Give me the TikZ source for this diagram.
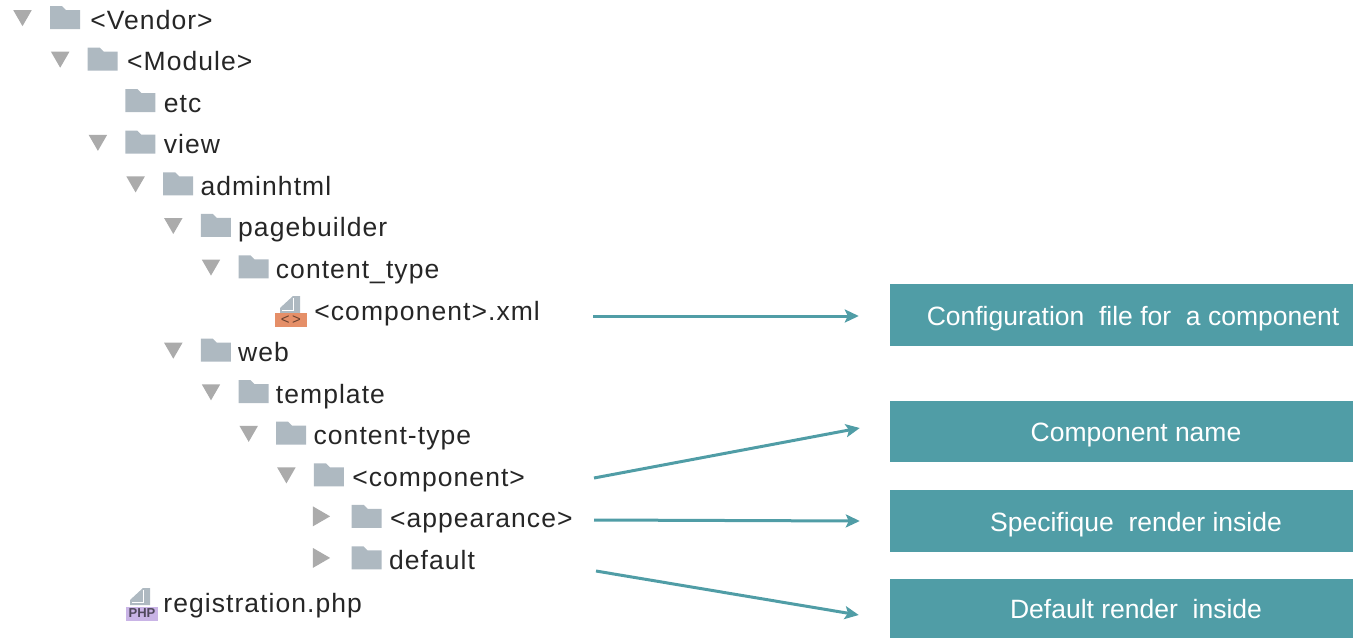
\documentclass[tikz,border=0pt]{standalone}
\usepackage{fontspec}
\setmainfont{Liberation Sans}
\newfontfamily\treefont[LetterSpace=4]{Liberation Sans}
\usetikzlibrary{shapes.geometric, arrows.meta, positioning}
\definecolor{foldergray}{HTML}{AEB9C1}
\definecolor{tealbox}{HTML}{509DA6}
\definecolor{xmlband}{HTML}{E58F68}
\definecolor{phpband}{HTML}{C9B4E6}
\tikzstyle{folder} = [rectangle, minimum width=30pt, minimum height=23pt, inner sep=0pt, path picture={\fill [foldergray] (path picture bounding box.south west) -- (path picture bounding box.north west) -- ([xshift=12pt]path picture bounding box.north west) -- ([xshift=16pt,yshift=-4pt]path picture bounding box.north west) -- ([yshift=-4pt]path picture bounding box.north east) -- (path picture bounding box.south east) -- cycle;}]
\tikzstyle{entry} = [rectangle, inner sep=0pt, text height=22pt, text depth=6pt, text=black!85, font=\fontsize{26.5}{30}\treefont]
\tikzstyle{open} = [isosceles triangle, isosceles triangle apex angle=60, shape border rotate=-90, minimum width=18pt, minimum height=16pt, inner sep=0pt, fill=black!33, yshift=2pt]
\tikzstyle{closed} = [isosceles triangle, isosceles triangle apex angle=60, minimum width=20pt, minimum height=16pt, inner sep=0pt, fill=black!33]
\tikzstyle{sheet} = [rectangle, minimum width=20pt, minimum height=17pt, inner sep=0pt, path picture={\fill [foldergray] (path picture bounding box.south west) -- ([yshift=5pt]path picture bounding box.south west) -- ([xshift=13pt]path picture bounding box.north west) -- (path picture bounding box.north east) -- (path picture bounding box.south east) -- cycle; \draw [white, line width=1pt] ([xshift=2pt,yshift=3pt]path picture bounding box.south west) -- ([xshift=13pt,yshift=3pt]path picture bounding box.south west) -- ([xshift=13pt,yshift=-2pt]path picture bounding box.north west);}]
\tikzstyle{band} = [rectangle, minimum width=32pt, minimum height=14pt, inner sep=0pt]
\tikzstyle{note} = [rectangle, minimum width=463pt, fill=tealbox, text=white, text centered, inner sep=0pt, text height=22pt, text depth=2pt, font=\fontsize{26.5}{30}\selectfont, execute at begin node={\hspace*{29pt}}]
\tikzstyle{arrow} = [line width=3pt,-{Stealth[length=14pt,width=13pt,inset=3pt]},color=tealbox]

\begin{document}
\begin{tikzpicture}[x=1pt, y=-1pt, node distance=41.57pt]
			\useasboundingbox (0,0) rectangle (1353,638);
			\node (vendor) [folder] at (65,17.5) {};
			\node (module) [folder, below of=vendor, xshift=37.7pt] {};
			\node (etc) [folder, below of=module, xshift=37.7pt] {};
			\node (view) [folder, below of=etc] {};
			\node (adminhtml) [folder, below of=view, xshift=37.7pt] {};
			\node (pagebuilder) [folder, below of=adminhtml, xshift=37.7pt] {};
			\node (contentunder) [folder, below of=pagebuilder, xshift=37.7pt] {};
			\node (web) [folder, below of=pagebuilder, yshift=-83.14pt] {};
			\node (template) [folder, below of=web, xshift=37.7pt] {};
			\node (contentdash) [folder, below of=template, xshift=37.7pt] {};
			\node (component) [folder, below of=contentdash, xshift=37.7pt] {};
			\node (appearance) [folder, below of=component, xshift=37.7pt] {};
			\node (default) [folder, below of=appearance] {};
			% file icons
			\node (xmlsheet) [sheet] at (290,304.5) {};
			\node (xmlicon) [band, fill=xmlband, text=black!55!xmlband, font=\fontsize{15}{16}\selectfont] at (291,320) {<\,>};
			\node (phpsheet) [sheet] at (140,596.5) {};
			\node (phpicon) [band, fill=phpband, text=black!60!phpband, font=\fontsize{13}{14}\bfseries\selectfont] at (142,613.5) {PHP};
			% names
			\node (vendortext) [entry, right=10pt of vendor, yshift=-3.5pt] {<Vendor>};
			\node (moduletext) [entry, right=9pt of module, yshift=-3.5pt] {<Module>};
			\node (etctext) [entry, right=8pt of etc, yshift=-3.5pt] {etc};
			\node (viewtext) [entry, right=8pt of view, yshift=-3.5pt] {view};
			\node (adminhtmltext) [entry, right=7pt of adminhtml, yshift=-3.5pt] {adminhtml};
			\node (pagebuildertext) [entry, right=7pt of pagebuilder, yshift=-3.5pt] {pagebuilder};
			\node (contentundertext) [entry, right=7pt of contentunder, yshift=-3.5pt] {content\_type};
			\node (xmltext) [entry, right=7pt of xmlicon, yshift=8pt] {<component>.xml};
			\node (webtext) [entry, right=7pt of web, yshift=-3.5pt] {web};
			\node (templatetext) [entry, right=7pt of template, yshift=-3.5pt] {template};
			\node (contentdashtext) [entry, right=7pt of contentdash, yshift=-3.5pt] {content-type};
			\node (componenttext) [entry, right=8pt of component, yshift=-3.5pt] {<component>};
			\node (appearancetext) [entry, right=8pt of appearance, yshift=-3.5pt] {<appearance>};
			\node (defaulttext) [entry, right=7pt of default, yshift=-3.5pt] {default};
			\node (phptext) [entry, right=5pt of phpicon, yshift=9pt] {registration.php};
			% disclosure triangles
			\node (vendoropen) [open, left of=vendor, node distance=42.5pt] {};
			\node (moduleopen) [open, left of=module, node distance=42.5pt] {};
			\node (viewopen) [open, left of=view, node distance=42.5pt] {};
			\node (adminhtmlopen) [open, left of=adminhtml, node distance=42.5pt] {};
			\node (pagebuilderopen) [open, left of=pagebuilder, node distance=42.5pt] {};
			\node (contentunderopen) [open, left of=contentunder, node distance=42.5pt] {};
			\node (webopen) [open, left of=web, node distance=42.5pt] {};
			\node (templateopen) [open, left of=template, node distance=42.5pt] {};
			\node (contentdashopen) [open, left of=contentdash, node distance=42.5pt] {};
			\node (componentopen) [open, left of=component, node distance=42.5pt] {};
			\node (appearanceclosed) [closed, left of=appearance, node distance=48pt] {};
			\node (defaultclosed) [closed, left of=default, node distance=48pt] {};
			% notes on the right
			\node (confignote) [note, minimum height=62pt] at (1121.5,315) {\hspace*{-6pt}Configuration\ \ file for\ \ a component};
			\node (namenote) [note, minimum height=61pt] at (1121.5,431.5) {Component name};
			\node (rendernote) [note, minimum height=62pt] at (1121.5,521) {Specifique\ \ render inside};
			\node (defaultnote) [note, minimum height=59pt] at (1121.5,608.5) {Default render\ \ inside};
			\coordinate (xmlout) at (593,316);
			\coordinate (componentout) at (594,478);
			\coordinate (appearanceout) at (594,520);
			\coordinate (defaultout) at (596,571);
			\draw [arrow] (xmlout) -- ([xshift=-31pt,yshift=-1pt]confignote.west);
			\draw [arrow] (componentout) -- ([xshift=-30pt,yshift=3.5pt]namenote.west);
			\draw [arrow] (appearanceout) -- ([xshift=-30pt]rendernote.west);
			\draw [arrow] (defaultout) -- ([xshift=-31pt,yshift=-6.5pt]defaultnote.west);
		\end{tikzpicture}
\end{document}
